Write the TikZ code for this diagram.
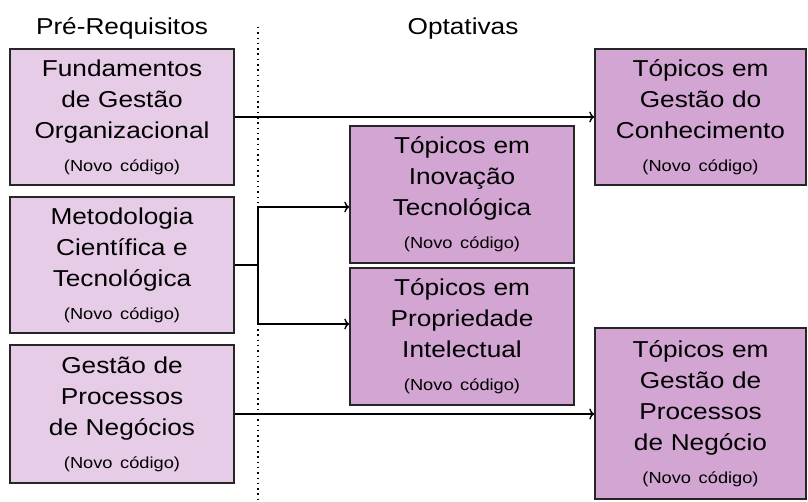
\documentclass[tikz,border=0pt]{standalone}
\usepackage{fontspec}
\setmainfont[FakeStretch=1.14]{Liberation Sans}
\usepackage{tikz}
\usetikzlibrary{arrows.meta}
\usepackage{xcolor}
\definecolor{prefill}{RGB}{230,204,230}
\definecolor{optfill}{RGB}{210,165,210}
\newcommand{\novocod}{\\[2pt]{\fontsize{16}{20}\selectfont(Novo código)}}
\begin{document}
\begin{tikzpicture}[x=1pt, y=-1pt,
  font=\fontsize{23}{31}\selectfont,
  box/.style={draw=black!85, line width=1.5pt, inner sep=0pt, align=center},
  prebox/.style={box, fill=prefill, minimum width=224pt, text width=224pt},
  optbox/.style={box, fill=optfill, minimum width=224pt, text width=224pt},
  link/.style={line width=1.4pt, -{To[length=5pt, width=11pt]}}]
\useasboundingbox (0,0) rectangle (808,502);
%\draw[very thin, color=gray] (0,0) grid[step=50] (808,502);
\node[anchor=base] (pretitle) at (122, 35) {Pré-Requisitos};
\node[anchor=base] (opttitle) at (463, 35) {Optativas};
\draw[line width=1.5pt, dash pattern=on 1.5pt off 3.8pt] (258, 27)--(258, 502);
%----------------------------------------
\node[prebox, minimum height=136pt] (pre1) at (122, 117) {Fundamentos\\de Gestão\\Organizacional\novocod};
\node[prebox, minimum height=136pt] (pre2) at (122, 265) {Metodologia\\Científica e\\Tecnológica\novocod};
\node[prebox, minimum height=138pt] (pre3) at (122, 414) {Gestão de\\Processos\\de Negócios\novocod};
%----------------------------------------
\node[optbox, minimum height=137pt] (opt1) at (462, 194.5) {Tópicos em\\Inovação\\Tecnológica\novocod};
\node[optbox, minimum height=137pt] (opt2) at (462, 336.5) {Tópicos em\\Propriedade\\Intelectual\novocod};
\node[optbox, minimum width=211pt, text width=211pt, minimum height=136pt] (opt3) at (700.5, 117) {Tópicos em\\Gestão do\\Conhecimento\novocod};
\node[optbox, minimum width=211pt, text width=211pt, minimum height=171pt] (opt4) at (700.5, 413.5) {Tópicos em\\Gestão de\\Processos\\de Negócio\novocod};
%----------------------------------------
\coordinate (split) at (258, 265);
\draw[link] (pre1.east)--(pre1.east -| opt3.west);
\draw[link, -] (pre2.east)--(split);
\draw[link] (split) |- ([yshift=-12.5pt]opt1.west);
\draw[link] (split) |- ([yshift=12.5pt]opt2.west);
\draw[link] (pre3.east)--(pre3.east -| opt4.west);
\end{tikzpicture}
\end{document}
